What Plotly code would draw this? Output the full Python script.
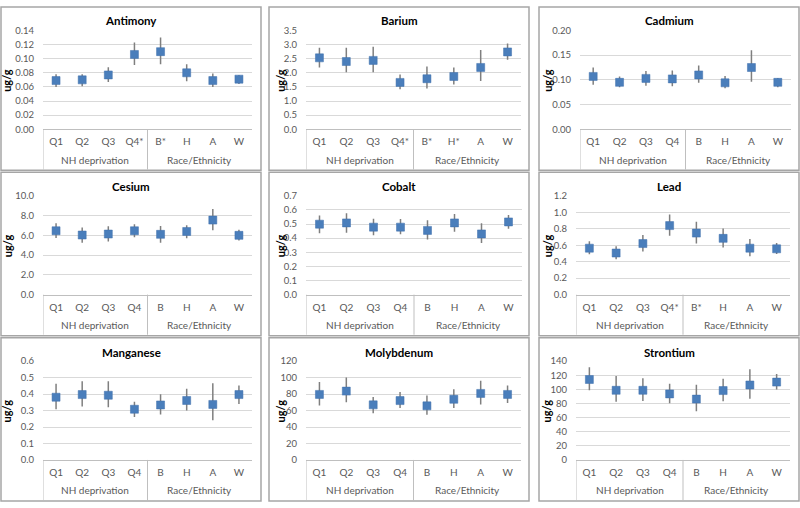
import plotly.graph_objects as go

# --- data -------------------------------------------------------------------
GROUPS = ["NH deprivation"] * 4 + ["Race/Ethnicity"] * 4
ELEMENTS = ["Antimony", "Barium", "Cadmium", "Cesium", "Cobalt", "Lead",
            "Manganese", "Molybdenum", "Strontium"]

antimony_cats = ["Q1", "Q2", "Q3", "Q4*", "B*", "H", "A", "W"]
antimony_mean = [0.069, 0.070, 0.077, 0.106, 0.110, 0.080, 0.069, 0.071]
antimony_low = [0.060, 0.061, 0.067, 0.091, 0.092, 0.068, 0.060, 0.064]
antimony_high = [0.078, 0.078, 0.088, 0.123, 0.130, 0.092, 0.079, 0.077]

barium_cats = ["Q1", "Q2", "Q3", "Q4*", "B*", "H*", "A", "W"]
barium_mean = [2.53, 2.40, 2.44, 1.66, 1.79, 1.87, 2.19, 2.74]
barium_low = [2.19, 2.02, 2.02, 1.42, 1.44, 1.59, 1.71, 2.46]
barium_high = [2.89, 2.89, 2.92, 1.94, 2.22, 2.19, 2.81, 3.04]

cadmium_cats = ["Q1", "Q2", "Q3", "Q4", "B", "H", "A", "W"]
cadmium_mean = [0.107, 0.095, 0.103, 0.102, 0.110, 0.094, 0.125, 0.095]
cadmium_low = [0.090, 0.085, 0.088, 0.087, 0.094, 0.083, 0.096, 0.085]
cadmium_high = [0.125, 0.107, 0.118, 0.119, 0.129, 0.108, 0.160, 0.104]

cesium_cats = ["Q1", "Q2", "Q3", "Q4", "B", "H", "A", "W"]
cesium_mean = [6.46, 6.03, 6.13, 6.46, 6.10, 6.39, 7.54, 6.00]
cesium_low = [5.74, 5.25, 5.38, 5.80, 5.25, 5.70, 6.52, 5.48]
cesium_high = [7.21, 6.79, 6.92, 7.11, 6.95, 7.02, 8.66, 6.56]

cobalt_cats = ["Q1", "Q2", "Q3", "Q4", "B", "H", "A", "W"]
cobalt_mean = [0.499, 0.508, 0.478, 0.478, 0.455, 0.508, 0.430, 0.515]
cobalt_low = [0.434, 0.439, 0.420, 0.427, 0.390, 0.446, 0.365, 0.467]
cobalt_high = [0.561, 0.577, 0.538, 0.536, 0.527, 0.571, 0.506, 0.564]

lead_cats = ["Q1", "Q2", "Q3", "Q4*", "B*", "H", "A", "W"]
lead_mean = [0.564, 0.505, 0.620, 0.838, 0.747, 0.683, 0.564, 0.556]
lead_low = [0.489, 0.429, 0.524, 0.715, 0.620, 0.572, 0.465, 0.493]
lead_high = [0.648, 0.588, 0.723, 0.973, 0.886, 0.803, 0.675, 0.628]

manganese_cats = ["Q1", "Q2", "Q3", "Q4", "B", "H", "A", "W"]
manganese_mean = [0.381, 0.397, 0.393, 0.308, 0.334, 0.361, 0.337, 0.397]
manganese_low = [0.308, 0.324, 0.320, 0.261, 0.276, 0.300, 0.241, 0.339]
manganese_high = [0.462, 0.478, 0.478, 0.353, 0.399, 0.432, 0.466, 0.452]

molybdenum_cats = ["Q1", "Q2", "Q3", "Q4", "B", "H", "A", "W"]
molybdenum_mean = [79.6, 83.6, 66.9, 72.1, 65.7, 73.7, 80.8, 79.6]
molybdenum_low = [66.1, 70.1, 56.6, 63.0, 55.0, 63.0, 67.3, 69.3]
molybdenum_high = [94.7, 100.2, 76.4, 82.4, 78.4, 85.9, 96.2, 90.3]

strontium_cats = ["Q1", "Q2", "Q3", "Q4", "B", "H", "A", "W"]
strontium_mean = [114.0, 98.7, 98.7, 93.6, 86.2, 98.3, 106.2, 110.3]
strontium_low = [98.7, 82.5, 83.4, 80.2, 69.1, 83.0, 86.7, 99.7]
strontium_high = [131.2, 119.1, 115.9, 108.0, 106.6, 115.0, 128.4, 121.9]

y_max = [0.14, 3.5, 0.20, 10.0, 0.7, 1.2, 0.6, 120, 140]
y_step = [0.02, 0.5, 0.05, 2.0, 0.1, 0.2, 0.1, 20, 20]
y_format = [".2f", ".1f", ".2f", ".1f", ".1f", ".1f", ".1f", "d", "d"]

panels = [
    (antimony_cats, antimony_mean, antimony_low, antimony_high),
    (barium_cats, barium_mean, barium_low, barium_high),
    (cadmium_cats, cadmium_mean, cadmium_low, cadmium_high),
    (cesium_cats, cesium_mean, cesium_low, cesium_high),
    (cobalt_cats, cobalt_mean, cobalt_low, cobalt_high),
    (lead_cats, lead_mean, lead_low, lead_high),
    (manganese_cats, manganese_mean, manganese_low, manganese_high),
    (molybdenum_cats, molybdenum_mean, molybdenum_low, molybdenum_high),
    (strontium_cats, strontium_mean, strontium_low, strontium_high),
]

# --- layout geometry (pixels) ---------------------------------------------
W, H = 800, 508
FONT = "Lato"
BLUE = "#4A7EBB"
GRID = "#D9D9D9"
AXIS = "#BFBFBF"
TEXT = "#595959"

# plot-area x extents per panel, y extents per row
plot_x = [(43, 252), (306, 521), (580, 791),
          (43, 252), (306, 522), (576, 790),
          (43, 252), (306, 521), (576, 790)]
plot_y = [(25, 126), (194, 295), (363, 464)]
box_x = [(1, 261), (269, 529), (539, 799)]
box_y = [(1, 168), (170, 337), (339, 506)]
title_y = [15, 185, 354]
ylabel_off = [36, 25, 32, 36, 26, 29, 36, 25, 29]

# group label centres / boundaries in category units
group_names = list(dict.fromkeys(GROUPS))
group_pos = [sum(k for k, g in enumerate(GROUPS) if g == name) / GROUPS.count(name)
             for name in group_names]
group_edges = [-0.5] + [k - 0.5 for k in range(1, len(GROUPS)) if GROUPS[k] != GROUPS[k - 1]]

fig = go.Figure()
annotations = []
shapes = []

for i, (name, (cats, mean, low, high)) in enumerate(zip(ELEMENTS, panels)):
    row, col = divmod(i, 3)
    n = i + 1
    xa = "x" if n == 1 else f"x{n}"
    ya = "y" if n == 1 else f"y{n}"

    fig.add_trace(go.Scatter(
        x=cats,
        y=mean,
        xaxis=xa, yaxis=ya,
        mode="markers",
        marker=dict(symbol="square", size=8, color=BLUE,
                    line=dict(color="#3E6FAA", width=0.5)),
        error_y=dict(type="data", symmetric=False,
                     array=[h - m for h, m in zip(high, mean)],
                     arrayminus=[m - l for m, l in zip(mean, low)],
                     color="#7F7F7F", thickness=1.5, width=0),
        showlegend=False,
        hoverinfo="x+y",
    ))

    x0, x1 = plot_x[i]
    top, bot = plot_y[row]
    ph = bot - top
    xkey = "xaxis" if n == 1 else f"xaxis{n}"
    ykey = "yaxis" if n == 1 else f"yaxis{n}"
    fig.update_layout(**{
        xkey: dict(
            domain=[x0 / W, x1 / W], anchor=ya, type="category",
            categoryorder="array", categoryarray=cats,
            range=[-0.5, len(cats) - 0.5],
            showline=True, linecolor=AXIS, linewidth=1,
            showgrid=False, ticks="", tickangle=0,
            ticklabelstandoff=3,
            tickfont=dict(family=FONT, size=10, color=TEXT),
        ),
        ykey: dict(
            domain=[1 - bot / H, 1 - top / H], anchor=xa,
            range=[0, y_max[i]], dtick=y_step[i], tick0=0,
            tickformat=y_format[i],
            showgrid=True, gridcolor=GRID, gridwidth=1,
            zeroline=False, showline=False, ticks="",
            ticklabelstandoff=8,
            tickfont=dict(family=FONT, size=9.5, color=TEXT),
        ),
    })

    # group labels and dividers of the two-level category axis
    for gname, gx in zip(group_names, group_pos):
        annotations.append(dict(
            text=gname, xref=xa, yref=f"{ya} domain",
            x=gx, y=-31 / ph, xanchor="center", yanchor="middle",
            showarrow=False, font=dict(family=FONT, size=10, color=TEXT),
        ))
    by0, by1 = box_y[row]
    for ex in group_edges:
        shapes.append(dict(type="line", xref=xa, yref=f"{ya} domain",
                           x0=ex, x1=ex, y0=0, y1=-(by1 - bot - 1) / ph,
                           line=dict(color=AXIS, width=1)))

    bx0, bx1 = box_x[col]
    shapes.append(dict(type="rect", xref="paper", yref="paper",
                       x0=bx0 / W, x1=bx1 / W, y0=1 - by1 / H, y1=1 - by0 / H,
                       line=dict(color="#A6A6A6", width=1.5)))
    annotations.append(dict(
        text=f"<b>{name}</b>", xref="paper", yref="paper",
        x=(bx0 + bx1) / 2 / W, y=1 - title_y[row] / H,
        xanchor="center", yanchor="middle", showarrow=False,
        font=dict(family=FONT, size=11.5, color="black"),
    ))
    annotations.append(dict(
        text="<b>ug/g</b>", xref="paper", yref="paper",
        x=(x0 - ylabel_off[i]) / W, y=1 - ((top + bot) / 2 + 1) / H,
        xanchor="center", yanchor="middle", showarrow=False, textangle=-90,
        font=dict(family=FONT, size=11, color="black"),
    ))

fig.update_layout(
    width=W, height=H,
    margin=dict(l=0, r=0, t=0, b=0),
    plot_bgcolor="white", paper_bgcolor="white",
    font=dict(family=FONT, color=TEXT),
    shapes=shapes, annotations=annotations,
)

fig.write_html("out.html",
               config={"displayModeBar": False},
               post_script="document.body.style.margin='0';"
                           "document.body.style.overflow='hidden';")
